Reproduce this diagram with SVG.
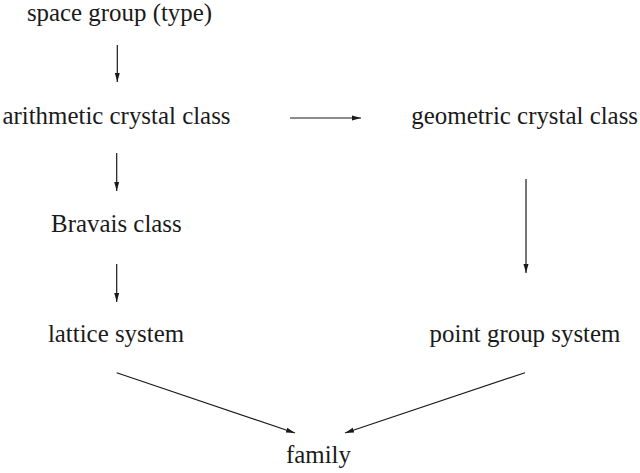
<svg xmlns="http://www.w3.org/2000/svg" width="640" height="473" viewBox="0 0 640 473">
<defs>
<style>
text{font-family:"Liberation Serif","Times New Roman",serif;font-size:24.9px;fill:#1a1a1a;text-anchor:middle}
.c line{stroke:#1a1a1a;stroke-width:1.2;marker-end:url(#ah)}
</style>
<marker id="ah" markerUnits="userSpaceOnUse" markerWidth="10" markerHeight="8" viewBox="0 0 10 8" refX="9" refY="4" orient="auto">
<path d="M0,1.5 L9,4 L0,6.5 Z" fill="#1a1a1a"/>
</marker>
</defs>
<rect width="640" height="473" fill="#fff"/>
<g id="n-space"><text x="119.5" y="21">space group (type)</text></g>
<g id="n-arith"><text x="116.5" y="124">arithmetic crystal class</text></g>
<g id="n-geom"><text x="524.7" y="124">geometric crystal class</text></g>
<g id="n-bravais"><text x="116.4" y="232">Bravais class</text></g>
<g id="n-lattice"><text x="116" y="342">lattice system</text></g>
<g id="n-point"><text x="525" y="342">point group system</text></g>
<g id="n-family"><text x="318.5" y="463">family</text></g>
<g class="c" id="connectors">
<line x1="117.3" y1="45" x2="117.3" y2="82"/>
<line x1="116.7" y1="153" x2="116.7" y2="191"/>
<line x1="116.7" y1="264" x2="116.7" y2="302"/>
<line x1="290" y1="118" x2="361" y2="118"/>
<line x1="526" y1="179" x2="526" y2="273"/>
<line x1="116.7" y1="372.7" x2="295" y2="433"/>
<line x1="525" y1="372.7" x2="345" y2="433"/>
</g>
</svg>
